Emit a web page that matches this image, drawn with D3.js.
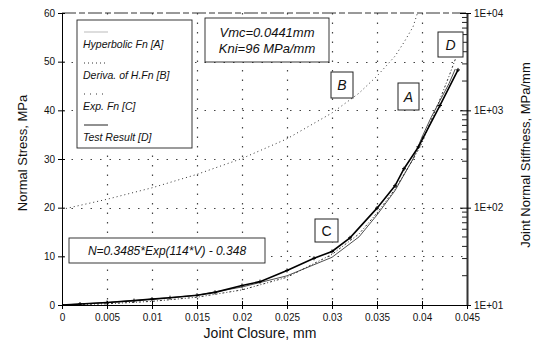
<!DOCTYPE html>
<html>
<head>
<meta charset="utf-8">
<script src="https://cdn.jsdelivr.net/npm/d3@7"></script>
<style>
  body { margin: 0; background: #fff; }
  text { font-family: "Liberation Sans", Arial, sans-serif; fill: #111; }
</style>
</head>
<body>
<div id="chart" style="width:542px;height:345px;"></div>
<script>
// values
var xTicks = [0, 0.005, 0.01, 0.015, 0.02, 0.025, 0.03, 0.035, 0.04, 0.045];
var yTicks = [0, 10, 20, 30, 40, 50, 60];
var kTicks = [10, 100, 1000, 10000];

// Test Result [D]
var testV = [0, 0.002, 0.005, 0.008, 0.01, 0.012, 0.015, 0.017, 0.02, 0.022, 0.025, 0.028, 0.03, 0.032, 0.035, 0.037, 0.038, 0.0396, 0.042, 0.044];
var testN = [0, 0.2, 0.5, 0.9, 1.2, 1.5, 2.0, 2.6, 4.0, 4.8, 7.1, 9.6, 11.0, 13.8, 19.9, 24.5, 28.0, 32.5, 41.0, 48.3];

// Hyperbolic Fn [A]
var hypV = [0, 0.005, 0.01, 0.015, 0.02, 0.025, 0.03, 0.033, 0.035, 0.037, 0.039, 0.04, 0.041, 0.042, 0.043, 0.0437];
var hypN = [0, 0.5, 1.2, 2.0, 3.7, 6.0, 9.8, 14.0, 18.5, 23.5, 30.0, 34.5, 38.5, 42.0, 45.5, 48.5];

// Exp. Fn [C]
var expV = [0, 0.005, 0.01, 0.015, 0.02, 0.025, 0.03, 0.033, 0.035, 0.037, 0.039, 0.04, 0.041, 0.042, 0.043, 0.0437];
var expN = [0, 0.25, 0.75, 1.6, 3.1, 5.7, 10.4, 14.6, 18.9, 23.8, 29.9, 33.3, 37.9, 42.3, 47.0, 50.5];

// Deriva. of H.Fn [B]  (stiffness, right axis)
var stiffV = [0, 0.005, 0.01, 0.015, 0.02, 0.025, 0.03, 0.033, 0.035, 0.037, 0.038, 0.039, 0.0395];
var stiffK = [96, 122, 160, 220, 320, 510, 940, 1500, 2250, 3600, 5000, 7200, 10000];

var legendItems = ["Hyperbolic Fn [A]", "Deriva. of H.Fn [B]", "Exp. Fn [C]", "Test Result [D]"];

var width = 542, height = 345;
var margin = {top: 13, left: 62, right: 75, bottom: 40};

var svg = d3.select("#chart").append("svg")
    .attr("width", width)
    .attr("height", height);

var xScale = d3.scaleLinear().domain([0, 0.045]).range([margin.left, width - margin.right]);
var yScale = d3.scaleLinear().domain([0, 60]).range([height - margin.bottom, margin.top]);
var kScale = d3.scaleLog().domain([10, 10000]).range([height - margin.bottom, margin.top]);

var x0 = xScale(0), x1 = xScale(0.045), y0 = yScale(0), y1 = yScale(60);

svg.append("clipPath").attr("id", "plot")
  .append("rect").attr("x", x0).attr("y", y1).attr("width", x1 - x0).attr("height", y0 - y1);

// dotted grid
svg.append("g").selectAll("line").data(xTicks.slice(1, -1)).enter().append("line")
    .attr("x1", d => Math.round(xScale(d)) + 0.5).attr("x2", d => Math.round(xScale(d)) + 0.5)
    .attr("y1", y1).attr("y2", y0)
    .attr("stroke", "#444").attr("stroke-width", 1.2).attr("stroke-dasharray", "1.5,8");
svg.append("g").selectAll("line").data(yTicks.slice(1, -1)).enter().append("line")
    .attr("x1", x0).attr("x2", x1)
    .attr("y1", d => Math.round(yScale(d)) + 0.5).attr("y2", d => Math.round(yScale(d)) + 0.5)
    .attr("stroke", "#444").attr("stroke-width", 1.2).attr("stroke-dasharray", "1.5,8");

// top border
svg.append("line").attr("x1", x0).attr("x2", x1).attr("y1", y1).attr("y2", y1)
    .attr("stroke", "#333").attr("stroke-width", 1).attr("stroke-dasharray", "14,3,6,3");

// axes
var xAxis = svg.append("g")
    .attr("transform", `translate(0,${y0})`)
    .call(d3.axisBottom(xScale).tickValues(xTicks).tickSize(4).tickSizeOuter(0)
      .tickFormat(d => d === 0 ? "0" : d3.format(".3~f")(d)));
xAxis.selectAll(".tick line").attr("y1", -4);
xAxis.selectAll(".tick text").attr("font-size", 10).attr("dy", "0.9em");

var yAxis = svg.append("g")
    .attr("transform", `translate(${x0},0)`)
    .call(d3.axisLeft(yScale).tickValues(yTicks).tickSize(4).tickSizeOuter(0));
yAxis.selectAll(".tick line").attr("x1", 3);
yAxis.selectAll(".tick text").attr("font-size", 10).attr("x", -7);

var kAxis = svg.append("g")
    .attr("transform", `translate(${x1},0)`)
    .call(d3.axisRight(kScale).tickValues(kTicks).tickSize(4).tickSizeOuter(0)
      .tickFormat(d => "1E+0" + Math.round(Math.log10(d))));
kAxis.selectAll(".tick line").attr("x1", -7);
kAxis.selectAll(".tick text").attr("font-size", 10).attr("x", 7);
kAxis.select(".domain").attr("stroke-width", 2).attr("stroke", "#333");
kAxis.append("g").selectAll("line")
    .data(kScale.ticks().filter(d => kTicks.indexOf(d) < 0))
    .enter().append("line")
    .attr("x1", -5).attr("x2", 0)
    .attr("y1", d => kScale(d)).attr("y2", d => kScale(d))
    .attr("stroke", "#222");

[xAxis, yAxis, kAxis].forEach(function(a) {
  a.selectAll("text").attr("font-family", "'Liberation Sans', Arial, sans-serif").attr("fill", "#111");
});

// curves
var plot = svg.append("g").attr("clip-path", "url(#plot)");

function lineOf(xs, ys, sy) {
  return d3.line().x((d, i) => xScale(xs[i])).y((d, i) => sy(ys[i]))(xs);
}

plot.append("path").attr("d", lineOf(stiffV, stiffK, kScale))
    .attr("fill", "none").attr("stroke", "#333").attr("stroke-width", 1)
    .attr("stroke-dasharray", "1,3");
plot.append("path").attr("d", lineOf(expV, expN, yScale))
    .attr("fill", "none").attr("stroke", "#333").attr("stroke-width", 1)
    .attr("stroke-dasharray", "2,2,1,2");
plot.append("path").attr("d", lineOf(hypV, hypN, yScale))
    .attr("fill", "none").attr("stroke", "#222").attr("stroke-width", 0.8);
plot.append("path").attr("d", lineOf(testV, testN, yScale))
    .attr("fill", "none").attr("stroke", "#000").attr("stroke-width", 1.6);
plot.append("g").selectAll("path").data(testV).enter().append("path")
    .attr("d", (d, i) => `M${xScale(d)},${yScale(testN[i]) - 2}v4M${xScale(d) - 2},${yScale(testN[i])}h4`)
    .attr("stroke", "#000").attr("stroke-width", 1);

// legend
var legend = svg.append("g");
legend.append("rect").attr("x", 77).attr("y", 20).attr("width", 115).attr("height", 128)
    .attr("fill", "#fff").attr("stroke", "#222").attr("stroke-width", 0.9);
var sampleDash = [null, "1,3", "1,5", null];
var sampleColor = ["#bbb", "#333", "#333", "#222"];
legendItems.forEach(function(t, i) {
  var yy = 44 + i * 31;
  legend.append("line").attr("x1", 84).attr("x2", 108)
      .attr("y1", yy - 12).attr("y2", yy - 12)
      .attr("stroke", sampleColor[i]).attr("stroke-width", 1)
      .attr("stroke-dasharray", sampleDash[i]);
  legend.append("text").attr("x", 83).attr("y", yy + 4)
      .attr("font-size", 10.5).attr("font-style", "italic").text(t);
});

// parameter box
svg.append("rect").attr("x", 205).attr("y", 18).attr("width", 124).attr("height", 44)
    .attr("fill", "#fff").attr("stroke", "#222").attr("stroke-width", 0.9);
svg.append("text").attr("x", 267).attr("y", 37).attr("text-anchor", "middle")
    .attr("font-size", 13).attr("font-style", "italic").text("Vmc=0.0441mm");
svg.append("text").attr("x", 267).attr("y", 53).attr("text-anchor", "middle")
    .attr("font-size", 13).attr("font-style", "italic").text("Kni=96 MPa/mm");

// fitted equation box
svg.append("rect").attr("x", 69).attr("y", 238).attr("width", 196).attr("height", 25)
    .attr("fill", "#fff").attr("stroke", "#222").attr("stroke-width", 0.9);
svg.append("text").attr("x", 167).attr("y", 255).attr("text-anchor", "middle")
    .attr("font-size", 12).attr("font-style", "italic").text("N=0.3485*Exp(114*V) - 0.348");

// curve tags
var tags = [
  {t: "B", x: 331, y: 72, w: 22, h: 26, it: true},
  {t: "A", x: 398, y: 83, w: 21, h: 27, it: true},
  {t: "D", x: 438, y: 32, w: 25, h: 25, it: true},
  {t: "C", x: 315, y: 219, w: 23, h: 23, it: false}
];
tags.forEach(function(g) {
  svg.append("rect").attr("x", g.x).attr("y", g.y).attr("width", g.w).attr("height", g.h)
      .attr("fill", "#fff").attr("stroke", "#222").attr("stroke-width", 1);
  svg.append("text").attr("x", g.x + g.w / 2).attr("y", g.y + g.h / 2 + 5)
      .attr("text-anchor", "middle").attr("font-size", 14)
      .attr("font-style", g.it ? "italic" : "normal").text(g.t);
});

// axis titles
svg.append("text").attr("x", 260).attr("y", 338).attr("text-anchor", "middle")
    .attr("font-size", 14).text("Joint  Closure, mm");
svg.append("text").attr("transform", "rotate(-90)")
    .attr("x", -153).attr("y", 27).attr("text-anchor", "middle")
    .attr("font-size", 13).text("Normal Stress, MPa");
svg.append("text").attr("transform", "rotate(-90)")
    .attr("x", -155).attr("y", 530).attr("text-anchor", "middle")
    .attr("font-size", 13).text("Joint Normal Stiffness, MPa/mm");
</script>
</body>
</html>
